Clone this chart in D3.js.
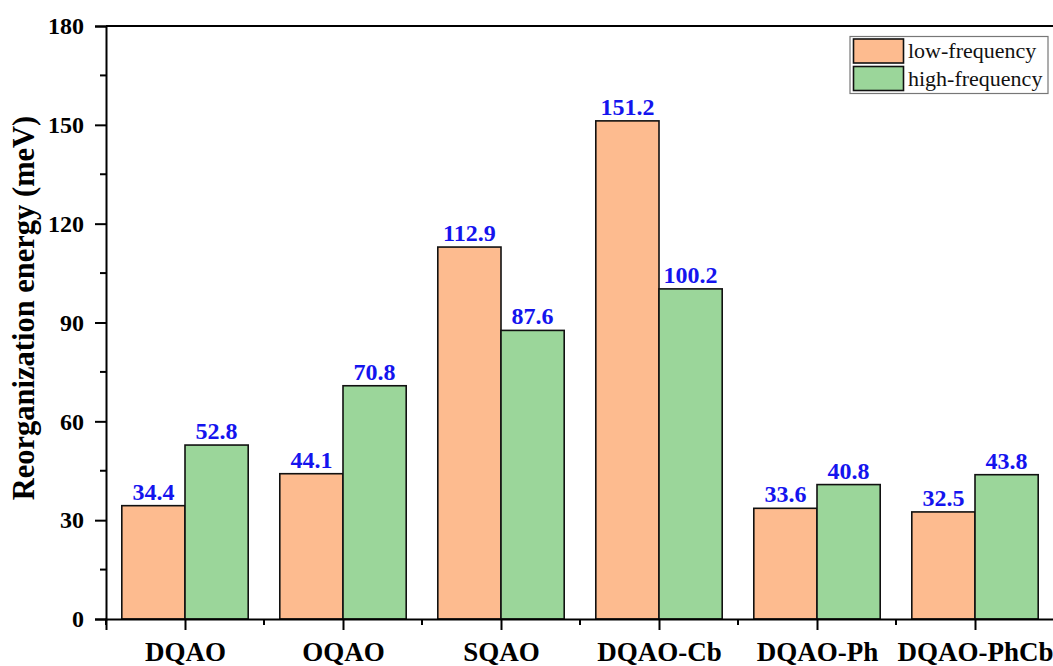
<!DOCTYPE html>
<html>
<head>
<meta charset="utf-8">
<script src="https://cdn.jsdelivr.net/npm/d3@7/dist/d3.min.js"></script>
<style>
  html, body { margin: 0; padding: 0; background: #fff; }
  svg { display: block; font-family: "Liberation Serif", "Times New Roman", serif; }
</style>
</head>
<body>
<svg id="chart" width="1053" height="666"></svg>
<script>
// Reorganization energy split into low- and high-frequency contributions
const categories = ["DQAO", "OQAO", "SQAO", "DQAO-Cb", "DQAO-Ph", "DQAO-PhCb"];
const lowFrequency = [34.4, 44.1, 112.9, 151.2, 33.6, 32.5];
const highFrequency = [52.8, 70.8, 87.6, 100.2, 40.8, 43.8];
const seriesNames = ["low-frequency", "high-frequency"];
const seriesColors = ["#FDBB8F", "#9BD69A"];
const yTicks = [0, 30, 60, 90, 120, 150, 180];
const yMinorTicks = [15, 45, 75, 105, 135, 165];

const svg = d3.select("#chart");

const plotLeft = 106, plotRight = 1054, plotTop = 26, plotBottom = 619;

// category positions on a continuous axis: 1..n, with half-step padding
const x = d3.scaleLinear().domain([0.5, categories.length + 0.5]).range([plotLeft, plotRight]);
const y = d3.scaleLinear().domain([0, 180]).range([plotBottom, plotTop]);
const step = x(2) - x(1);
const barW = step * 0.4;

const series = [lowFrequency, highFrequency];

// bars
series.forEach((vals, si) => {
  const g = svg.append("g");
  g.selectAll("rect").data(vals).join("rect")
    .attr("x", (d, i) => x(i + 1) + (si === 0 ? -barW : 0))
    .attr("y", d => y(d))
    .attr("width", barW)
    .attr("height", d => y(0) - y(d))
    .attr("fill", seriesColors[si])
    .attr("stroke", "#111")
    .attr("stroke-width", 1.6);

  g.selectAll("text").data(vals).join("text")
    .attr("x", (d, i) => x(i + 1) + (si === 0 ? -barW / 2 : barW / 2))
    .attr("y", d => y(d) - 6)
    .attr("text-anchor", "middle")
    .attr("font-size", 24)
    .attr("font-weight", "bold")
    .attr("fill", "#1414EE")
    .text(d => d.toFixed(1));
});

// top frame line
svg.append("line")
  .attr("x1", plotLeft).attr("x2", plotRight)
  .attr("y1", y(180)).attr("y2", y(180))
  .attr("stroke", "#000").attr("stroke-width", 2);

// y axis
const yAxis = svg.append("g").attr("transform", `translate(${plotLeft},0)`)
  .call(d3.axisLeft(y).tickValues(yTicks).tickSize(11).tickPadding(11).tickFormat(d3.format("d")));
yAxis.append("g").selectAll("line").data(yMinorTicks).join("line")
  .attr("x1", -6).attr("x2", 0)
  .attr("y1", d => y(d)).attr("y2", d => y(d))
  .attr("stroke", "#000").attr("stroke-width", 2);

// x axis
const xAxis = svg.append("g").attr("transform", `translate(0,${plotBottom})`)
  .call(d3.axisBottom(x).tickValues(d3.range(1, categories.length + 1)).tickSize(11).tickPadding(12)
    .tickFormat(d => categories[d - 1]));
const halfSteps = d3.range(0, categories.length + 1).map(i => i + 0.5);
xAxis.append("g").selectAll("line").data(halfSteps).join("line")
  .attr("x1", d => x(d)).attr("x2", d => x(d))
  .attr("y1", 0).attr("y2", 6)
  .attr("stroke", "#000").attr("stroke-width", 2);

[yAxis, xAxis].forEach(a => {
  a.select(".domain").attr("stroke", "#000").attr("stroke-width", 2);
  a.selectAll(".tick line").attr("stroke", "#000").attr("stroke-width", 2);
  a.selectAll(".tick text")
    .attr("fill", "#000")
    .attr("font-family", "Liberation Serif, Times New Roman, serif")
    .attr("font-weight", "bold");
});
yAxis.selectAll(".tick text").attr("font-size", 24);
xAxis.selectAll(".tick text").attr("font-size", 27);

// y axis title
svg.append("text")
  .attr("transform", "translate(34,308) rotate(-90)")
  .attr("text-anchor", "middle")
  .attr("font-size", 30.5)
  .attr("font-weight", "bold")
  .attr("fill", "#000")
  .text("Reorganization energy (meV)");

// legend
const legend = svg.append("g");
legend.append("rect")
  .attr("x", 850).attr("y", 36.5).attr("width", 198).attr("height", 57)
  .attr("fill", "#fff").attr("stroke", "#777").attr("stroke-width", 1.2);
seriesNames.forEach((name, i) => {
  legend.append("rect")
    .attr("x", 853.5).attr("y", 39 + i * 27.5).attr("width", 50).attr("height", 24)
    .attr("fill", seriesColors[i]).attr("stroke", "#111").attr("stroke-width", 1.6);
  legend.append("text")
    .attr("x", 908).attr("y", 58 + i * 27.5)
    .attr("font-size", 22)
    .attr("fill", "#111")
    .text(name);
});
</script>
</body>
</html>
